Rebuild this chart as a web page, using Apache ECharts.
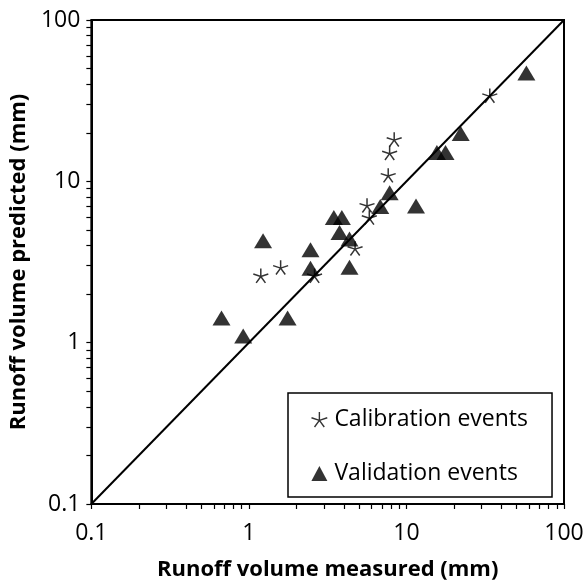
<!DOCTYPE html>
<html>
<head>
<meta charset="utf-8">
<script src="https://cdn.jsdelivr.net/npm/echarts@6/dist/echarts.min.js"></script>
<style>html,body{margin:0;padding:0;background:#fff;}#c{width:588px;height:586px;}</style>
</head>
<body>
<div id="c"></div>
<script>
// Calibration events (asterisks)
const calibX = [1.19, 1.59, 2.61, 4.72, 5.81, 5.62, 7.66, 7.82, 8.36, 33.8];
const calibY = [2.60, 2.93, 2.60, 3.84, 5.97, 7.1, 10.9, 15.0, 18.2, 34];
// Validation events (triangles)
const validX = [0.67, 0.92, 1.76, 1.23, 2.46, 2.46, 4.35, 3.46, 3.89, 3.76, 4.35, 6.82, 7.82, 11.5, 15.6, 17.7, 22.1, 57.7];
const validY = [1.42, 1.10, 1.42, 4.28, 3.77, 2.89, 2.93, 5.97, 5.97, 4.82, 4.39, 6.98, 8.5, 7.04, 15.1, 15.1, 19.8, 47];
// 1:1 line
const lineX = [0.1, 100];
const lineY = [0.1, 100];
// Axis ticks
const tickValues = [0.1,0.2,0.3,0.4,0.5,0.6,0.7,0.8,0.9,1,2,3,4,5,6,7,8,9,10,20,30,40,50,60,70,80,90,100];
const labelValues = [0.1, 1, 10, 100];

const FONT = '"Open Sans", "Noto Sans", sans-serif';
const starPath = 'path://M0,0 L0,-1 M0,0 L0.951,-0.309 M0,0 L0.588,0.809 M0,0 L-0.588,0.809 M0,0 L-0.951,-0.309';

const zip = (a, b) => a.map((v, i) => [v, b[i]]);

const chart = echarts.init(document.getElementById('c'), null, {renderer: 'canvas'});

function axis(name, isX) {
  return {
    type: 'log',
    logBase: 10,
    min: 0.1,
    max: 100,
    name: name,
    nameLocation: 'middle',
    nameGap: isX ? 55 : 48,
    nameTextStyle: {fontFamily: FONT, fontSize: 22, fontWeight: 'bold', color: '#000'},
    axisLine: {show: true, onZero: false, lineStyle: {color: '#000', width: 2}},
    axisTick: {show: true, inside: false, length: 5, lineStyle: {color: '#000', width: 1.2}, customValues: tickValues},
    minorTick: {show: false},
    axisLabel: {show: true, fontFamily: FONT, fontSize: 23, color: '#000', margin: isX ? 18 : 11, customValues: labelValues,
      formatter: v => String(v)},
    splitLine: {show: false}
  };
}

chart.setOption({
  animation: false,
  backgroundColor: '#fff',
  grid: {left: 89, right: 24, top: 20, bottom: 78, show: true, borderColor: '#000', borderWidth: 2, backgroundColor: 'transparent'},
  xAxis: axis('Runoff volume measured (mm)', true),
  yAxis: axis('Runoff volume predicted (mm)', false),
  legend: {
    left: 288, top: 393,
    orient: 'vertical',
    borderColor: '#000', borderWidth: 1.5,
    backgroundColor: '#fff',
    padding: [15, 24, 12, 21],
    itemGap: 31,
    itemWidth: 16, itemHeight: 15,
    textStyle: {fontFamily: FONT, fontSize: 23, color: '#000', padding: [0, 0, 0, 2]},
    data: [
      {name: 'Calibration events', icon: starPath, itemStyle: {color: 'none', borderColor: '#000', borderWidth: 1.4}},
      {name: 'Validation events', icon: 'triangle', itemStyle: {color: '#000'}}
    ]
  },
  series: [
    {
      type: 'line', data: zip(lineX, lineY), symbol: 'none', silent: true,
      lineStyle: {color: '#000', width: 2}, z: 1
    },
    {
      name: 'Calibration events', type: 'scatter', data: zip(calibX, calibY),
      symbol: starPath, symbolSize: [15, 15], symbolKeepAspect: true,
      itemStyle: {color: 'none', borderColor: '#000', borderWidth: 1.5}, z: 3
    },
    {
      name: 'Validation events', type: 'scatter', data: zip(validX, validY),
      symbol: 'triangle', symbolSize: [18, 15],
      itemStyle: {color: '#000'}, z: 2
    }
  ]
});
</script>
</body>
</html>
